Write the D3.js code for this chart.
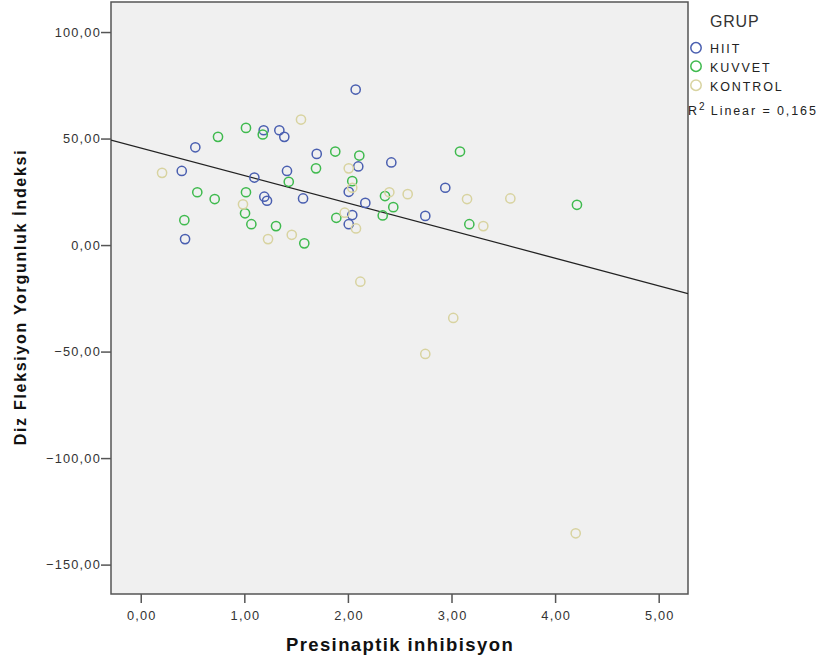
<!DOCTYPE html>
<html>
<head>
<meta charset="utf-8">
<script src="https://cdn.jsdelivr.net/npm/d3@7"></script>
<style>
  body { margin: 0; background: #fff; }
  svg { display: block; }
</style>
</head>
<body>
<svg id="chart" width="818" height="665"></svg>
<script>
// ---- data ----
const groups = ["HIIT", "KUVVET", "KONTROL"];
const hiitX = [2.075, 0.527, 0.396, 0.428, 1.187, 1.338, 1.386, 1.699, 1.097, 1.412, 1.193, 1.219, 1.567, 2.100, 2.008, 2.419, 2.168, 2.042, 2.008, 2.940, 2.747];
const hiitY = [73.0, 45.9, 34.8, 2.8, 53.9, 53.9, 50.8, 42.8, 31.7, 34.8, 22.7, 20.8, 21.9, 36.9, 25.0, 38.8, 19.8, 14.1, 9.8, 26.9, 13.7];
const kuvvetX = [0.746, 1.016, 1.178, 0.546, 0.714, 0.421, 1.016, 1.007, 1.068, 1.306, 1.579, 1.429, 1.692, 1.878, 2.110, 2.042, 1.888, 2.358, 2.438, 2.336, 3.082, 3.172, 4.211];
const kuvvetY = [50.8, 55.0, 51.9, 24.8, 21.6, 11.7, 24.8, 14.9, 9.8, 8.9, 0.8, 29.7, 36.0, 43.9, 42.0, 30.0, 12.8, 23.0, 17.8, 13.9, 43.9, 9.8, 18.9];
const kontrolX = [0.206, 1.547, 2.008, 0.987, 1.229, 1.458, 2.042, 1.969, 2.078, 2.120, 2.400, 2.577, 3.150, 3.568, 3.307, 3.017, 2.747, 4.199];
const kontrolY = [33.9, 58.9, 36.0, 19.1, 2.8, 4.8, 26.9, 15.2, 7.8, -17.2, 24.8, 23.9, 21.6, 21.9, 8.9, -34.2, -51.1, -135.3];
const xTicks = [0, 1, 2, 3, 4, 5];
const yTicks = [100, 50, 0, -50, -100, -150];
const fitIntercept = 45.6;
const fitSlope = -12.94;
const r2Label = "0,165";
const xTitle = "Presinaptik inhibisyon";
const yTitle = "Diz Fleksiyon Yorgunluk İndeksi";
const legendTitle = "GRUP";

// ---- styles ----
const colors = { "HIIT": "#4a5fb0", "KUVVET": "#3fba4e", "KONTROL": "#d8d3a0" };
const plot = { left: 111, right: 688, top: 2, bottom: 594 };
const svg = d3.select("#chart");

const x = d3.scaleLinear().domain([-0.287, 5.283]).range([plot.left, plot.right]);
const y = d3.scaleLinear().domain([-163.8, 114.1]).range([plot.bottom, plot.top]);

const loc = d3.formatLocale({ decimal: ",", thousands: ".", grouping: [3], currency: ["", ""] });
const fmt = loc.format(".2f");

// background
svg.append("rect")
  .attr("x", plot.left).attr("y", plot.top)
  .attr("width", plot.right - plot.left).attr("height", plot.bottom - plot.top)
  .attr("fill", "#f0f0f0");

// axes
const tickFont = "Liberation Sans, Arial, sans-serif";
const yAxis = svg.append("g").attr("transform", `translate(${plot.left},0)`)
  .call(d3.axisLeft(y).tickValues(yTicks).tickSize(10).tickPadding(0).tickFormat(fmt));
yAxis.select(".domain").remove();
yAxis.selectAll(".tick line").attr("stroke", "#555").attr("stroke-width", 1.5);
yAxis.selectAll(".tick text")
  .attr("x", -10)
  .attr("dy", "0.34em")
  .attr("font-family", tickFont).attr("font-size", 12.8)
  .attr("letter-spacing", 1.2)
  .attr("fill", "#333");

const xAxis = svg.append("g").attr("transform", `translate(0,${plot.bottom})`)
  .call(d3.axisBottom(x).tickValues(xTicks).tickSize(9).tickPadding(0).tickFormat(fmt));
xAxis.select(".domain").remove();
xAxis.selectAll(".tick line").attr("stroke", "#555").attr("stroke-width", 1.5);
xAxis.selectAll(".tick text")
  .attr("y", 26).attr("dy", 0)
  .attr("dx", 0.6)
  .attr("font-family", tickFont).attr("font-size", 12.8)
  .attr("letter-spacing", 1.2)
  .attr("fill", "#333");

// frame
svg.append("rect")
  .attr("x", plot.left).attr("y", plot.top)
  .attr("width", plot.right - plot.left).attr("height", plot.bottom - plot.top)
  .attr("fill", "none").attr("stroke", "#555").attr("stroke-width", 1.5);

// clip
svg.append("clipPath").attr("id", "clip").append("rect")
  .attr("x", plot.left).attr("y", plot.top)
  .attr("width", plot.right - plot.left).attr("height", plot.bottom - plot.top);

// fit line
const xd = x.domain();
svg.append("line")
  .attr("clip-path", "url(#clip)")
  .attr("x1", x(xd[0])).attr("y1", y(fitIntercept + fitSlope * xd[0]))
  .attr("x2", x(xd[1])).attr("y2", y(fitIntercept + fitSlope * xd[1]))
  .attr("stroke", "#222").attr("stroke-width", 1.3);

// points
const series = [
  { name: "HIIT", xs: hiitX, ys: hiitY },
  { name: "KUVVET", xs: kuvvetX, ys: kuvvetY },
  { name: "KONTROL", xs: kontrolX, ys: kontrolY }
];
const pts = svg.append("g").attr("clip-path", "url(#clip)");
series.forEach(s => {
  pts.selectAll(null).data(s.xs.map((v, i) => [v, s.ys[i]]))
    .enter().append("circle")
    .attr("cx", d => x(d[0])).attr("cy", d => y(d[1]))
    .attr("r", 4.6)
    .attr("fill", "none")
    .attr("stroke", colors[s.name]).attr("stroke-width", 1.5);
});

// axis titles
svg.append("text")
  .attr("x", 400).attr("y", 651)
  .attr("text-anchor", "middle")
  .attr("font-family", tickFont).attr("font-weight", "bold")
  .attr("font-size", 18.5).attr("letter-spacing", 1.4)
  .attr("fill", "#111")
  .text(xTitle);

svg.append("text")
  .attr("transform", "translate(26,297) rotate(-90)")
  .attr("text-anchor", "middle")
  .attr("font-family", tickFont).attr("font-weight", "bold")
  .attr("font-size", 16).attr("letter-spacing", 1.7)
  .attr("fill", "#111")
  .text(yTitle);

// legend
const lg = svg.append("g");
lg.append("text")
  .attr("x", 710).attr("y", 26.5)
  .attr("font-family", tickFont).attr("font-size", 16).attr("letter-spacing", 0.8)
  .attr("fill", "#333")
  .text(legendTitle);
const legBase = [53.3, 71.7, 90.7];
groups.forEach((g, i) => {
  lg.append("circle")
    .attr("cx", 696).attr("cy", legBase[i] - 5.5)
    .attr("r", 5.2)
    .attr("fill", "none").attr("stroke", colors[g]).attr("stroke-width", 1.5);
  lg.append("text")
    .attr("x", 710).attr("y", legBase[i])
    .attr("font-family", tickFont).attr("font-size", 12.5).attr("letter-spacing", 1.9)
    .attr("fill", "#222")
    .text(g);
});
const r2 = lg.append("text")
  .attr("x", 688).attr("y", 115)
  .attr("font-family", tickFont).attr("font-size", 12.5).attr("letter-spacing", 1.9)
  .attr("fill", "#222");
r2.append("tspan").text("R");
r2.append("tspan").attr("dy", -5).attr("font-size", 10).attr("letter-spacing", 1).text("2");
r2.append("tspan").attr("dy", 5).text(" Linear = " + r2Label);
</script>
</body>
</html>
